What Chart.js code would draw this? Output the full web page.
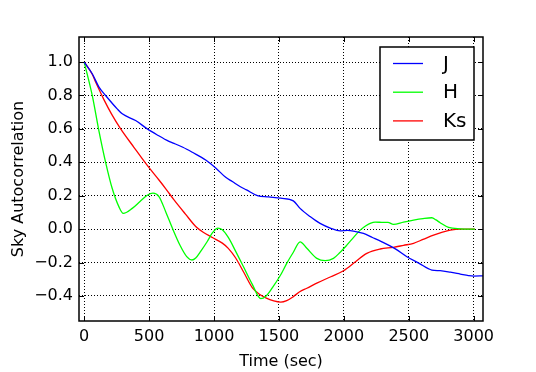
<!DOCTYPE html>
<html>
<head>
<meta charset="utf-8">
<script src="https://cdn.jsdelivr.net/npm/chart.js@4/dist/chart.umd.min.js"></script>
<style>
  html, body { margin: 0; padding: 0; background: #fff; }
  canvas { display: block; }
</style>
</head>
<body>
<canvas id="chart" width="536" height="372"></canvas>
<script>
'use strict';

// tick labels
let xTicks = [0, 500, 1000, 1500, 2000, 2500, 3000];
let yTicks = [-0.4, -0.2, 0.0, 0.2, 0.4, 0.6, 0.8, 1.0];

// J band
let jTime = [0, 62, 114, 165, 254, 293, 396, 486, 560, 653, 692, 760, 833, 936, 1013, 1090, 1141, 1200, 1250, 1334, 1420, 1514, 1611, 1663, 1740, 1817, 1900, 1971, 2030, 2074, 2151, 2220, 2293, 2400, 2486, 2580, 2678, 2742, 2820, 2897, 2960, 3000, 3072];
let jVals = [1.0, 0.93, 0.85, 0.8, 0.72, 0.69, 0.65, 0.6, 0.565, 0.525, 0.513, 0.49, 0.46, 0.414, 0.366, 0.31, 0.285, 0.255, 0.235, 0.201, 0.193, 0.185, 0.169, 0.124, 0.075, 0.034, 0.005, -0.01, -0.008, -0.012, -0.026, -0.05, -0.076, -0.12, -0.165, -0.205, -0.245, -0.249, -0.258, -0.269, -0.278, -0.281, -0.28];

// H band
let hTime = [0, 62, 113, 165, 216, 268, 301, 370, 430, 486, 530, 576, 630, 679, 740, 790, 830, 859, 900, 948, 990, 1030, 1064, 1110, 1167, 1230, 1296, 1360, 1399, 1450, 1514, 1560, 1610, 1663, 1715, 1792, 1856, 1920, 1970, 2023, 2080, 2126, 2170, 2203, 2241, 2305, 2340, 2382, 2460, 2537, 2610, 2678, 2710, 2742, 2807, 2897, 3010];
let hVals = [1.0, 0.8, 0.59, 0.4, 0.243, 0.133, 0.094, 0.124, 0.165, 0.203, 0.215, 0.195, 0.1, 0.006, -0.1, -0.165, -0.185, -0.173, -0.13, -0.074, -0.02, 0.006, -0.004, -0.05, -0.133, -0.23, -0.332, -0.416, -0.402, -0.35, -0.273, -0.205, -0.14, -0.076, -0.115, -0.175, -0.189, -0.175, -0.14, -0.096, -0.045, -0.006, 0.02, 0.034, 0.042, 0.04, 0.04, 0.028, 0.042, 0.054, 0.063, 0.068, 0.055, 0.038, 0.01, 0.002, 0.0];

// Ks band
let kTime = [0, 62, 88, 152, 210, 281, 383, 486, 576, 630, 692, 780, 859, 920, 987, 1064, 1110, 1167, 1230, 1296, 1350, 1399, 1460, 1514, 1560, 1611, 1660, 1715, 1800, 1900, 1997, 2090, 2177, 2280, 2382, 2460, 2537, 2610, 2691, 2760, 2820, 2900, 2974, 3010];
let kVals = [1.0, 0.927, 0.88, 0.775, 0.69, 0.6, 0.49, 0.381, 0.294, 0.24, 0.175, 0.09, 0.016, -0.02, -0.05, -0.084, -0.115, -0.173, -0.26, -0.352, -0.39, -0.412, -0.43, -0.437, -0.428, -0.404, -0.375, -0.354, -0.32, -0.285, -0.249, -0.195, -0.145, -0.119, -0.109, -0.097, -0.085, -0.062, -0.036, -0.018, -0.006, 0.0, 0.0, 0.0];

let seriesNames = ['J', 'H', 'Ks'];
let seriesColors = ['#0000ff', '#00ff00', '#ff0000'];

const FONT = 'DejaVu Sans';

// helper to pair up x and y arrays
function toPoints(xs, ys) {
  let pts = [];
  for (let i = 0; i < xs.length; i++) {
    pts.push({ x: xs[i], y: ys[i] });
  }
  return pts;
}

function makeDataset(i, xs, ys) {
  return {
    label: seriesNames[i],
    data: toPoints(xs, ys),
    borderColor: seriesColors[i],
    backgroundColor: seriesColors[i],
    borderWidth: 1.3,
    pointRadius: 0,
    cubicInterpolationMode: 'monotone',
    fill: false
  };
}

function fmtY(v) {
  let s = Number(v).toFixed(1);
  if (s === '-0.0') s = '0.0';
  return s.replace('-', '\u2212');
}

// frame, inward ticks and legend box, matplotlib style
let framePlugin = {
  id: 'frame',
  afterDraw(chart) {
    let c = chart.ctx;
    let a = chart.chartArea;
    let xs = chart.scales.x;
    let ys = chart.scales.y;
    let tl = 5;

    c.save();
    c.strokeStyle = '#000';
    c.lineWidth = 1;
    c.beginPath();
    xTicks.forEach(function (t) {
      let px = Math.round(xs.getPixelForValue(t)) + 0.5;
      c.moveTo(px, a.bottom); c.lineTo(px, a.bottom - tl);
      c.moveTo(px, a.top); c.lineTo(px, a.top + tl);
    });
    yTicks.forEach(function (t) {
      let py = Math.round(ys.getPixelForValue(t)) + 0.5;
      c.moveTo(a.left, py); c.lineTo(a.left + tl, py);
      c.moveTo(a.right, py); c.lineTo(a.right - tl, py);
    });
    c.stroke();

    c.lineWidth = 1.5;
    c.strokeRect(a.left, a.top, a.right - a.left, a.bottom - a.top);

    // legend
    let lx = 380, ly = 47, lw = 94, lh = 93;
    c.fillStyle = '#fff';
    c.fillRect(lx, ly, lw, lh);
    c.lineWidth = 1.5;
    c.strokeRect(lx, ly, lw, lh);
    c.font = '20px "' + FONT + '"';
    c.textBaseline = 'middle';
    c.textAlign = 'left';
    for (let i = 0; i < seriesNames.length; i++) {
      let ry = 63.5 + i * 28.7;
      c.strokeStyle = seriesColors[i];
      c.lineWidth = 1.3;
      c.beginPath();
      c.moveTo(393, ry); c.lineTo(423, ry);
      c.stroke();
      c.fillStyle = '#000';
      c.fillText(seriesNames[i], 443, ry + 1);
    }
    c.restore();
  }
};

let ctx = document.getElementById('chart').getContext('2d');

let chartObject = {
  type: 'line',
  data: {
    datasets: [
      makeDataset(0, jTime, jVals),
      makeDataset(1, hTime, hVals),
      makeDataset(2, kTime, kVals)
    ]
  },
  options: {
    responsive: false,
    animation: false,
    devicePixelRatio: 1,
    layout: { padding: { left: 0, right: 53, top: 37, bottom: 0 } },
    plugins: {
      legend: { display: false },
      tooltip: { enabled: false }
    },
    scales: {
      x: {
        type: 'linear',
        min: -40,
        max: 3072,
        afterBuildTicks: function (scale) {
          scale.ticks = xTicks.map(function (v) { return { value: v }; });
        },
        afterFit: function (scale) { scale.height = 51; },
        grid: { color: '#000', lineWidth: 1, drawTicks: false },
        border: { display: false, dash: [1, 2] },
        ticks: {
          color: '#000',
          padding: 6,
          maxRotation: 0,
          font: { family: FONT, size: 16 },
          callback: function (v) { return String(v); }
        },
        title: {
          display: true,
          text: 'Time (sec)',
          color: '#000',
          font: { family: FONT, size: 16 },
          padding: { top: 0, bottom: 1 }
        }
      },
      y: {
        type: 'linear',
        min: -0.55,
        max: 1.15,
        afterBuildTicks: function (scale) {
          scale.ticks = yTicks.map(function (v) { return { value: v }; });
        },
        afterFit: function (scale) { scale.width = 79; },
        grid: { color: '#000', lineWidth: 1, drawTicks: false },
        border: { display: false, dash: [1, 2] },
        ticks: {
          color: '#000',
          padding: 6,
          font: { family: FONT, size: 16 },
          callback: fmtY
        },
        title: {
          display: true,
          text: 'Sky Autocorrelation',
          color: '#000',
          font: { family: FONT, size: 16 },
          padding: { top: 9, bottom: 0 }
        }
      }
    }
  },
  plugins: [framePlugin]
};

const myChart = new Chart(ctx, chartObject);
</script>
</body>
</html>
